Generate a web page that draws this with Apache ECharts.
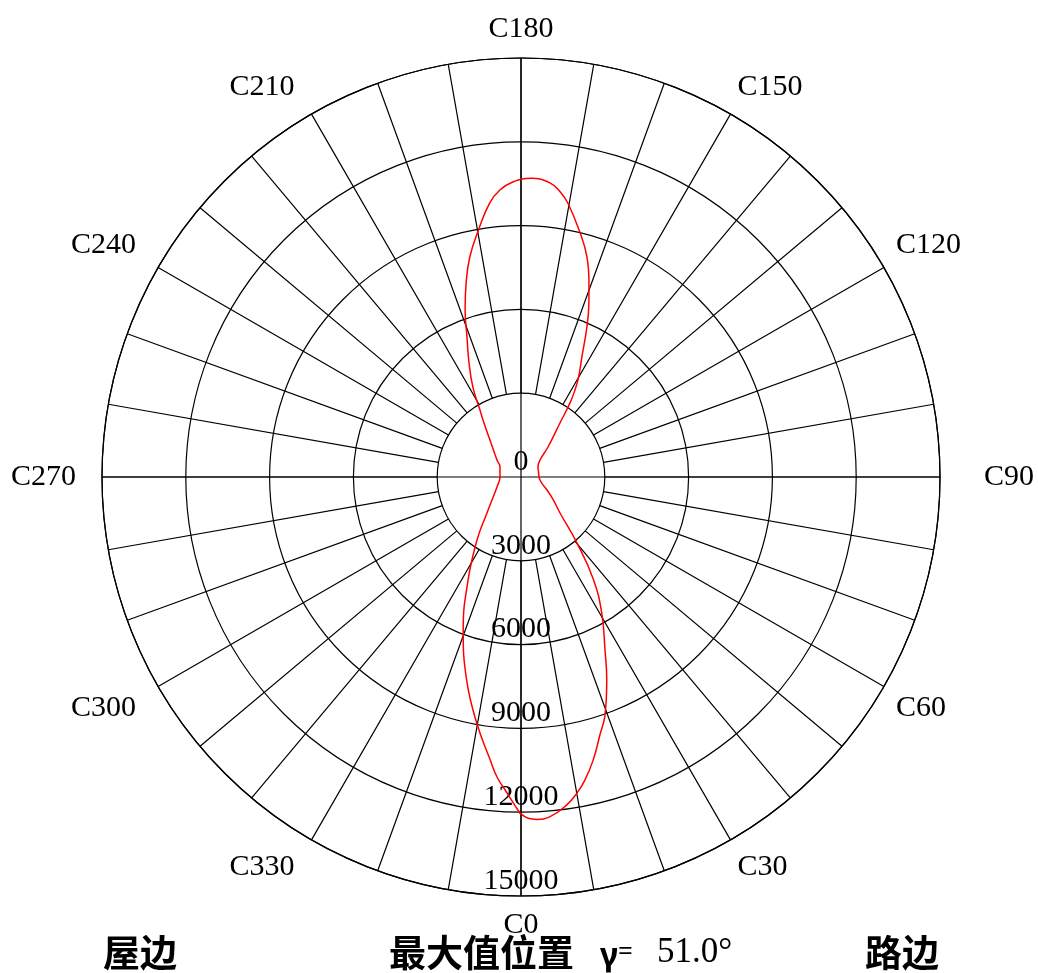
<!DOCTYPE html>
<html>
<head>
<meta charset="utf-8">
<script src="https://cdn.jsdelivr.net/npm/echarts@6/dist/echarts.min.js"></script>
<style>html,body{margin:0;padding:0;background:#fff}#c{width:1038px;height:973px}</style>
</head>
<body>
<div id="c"></div>
<script>
// ---- data ----
const radiusTicks = [0, 3000, 6000, 9000, 12000, 15000];
const angleLabelStep = 30;
const angleLabelPrefix = 'C';
const curveAngles = [0, 1.2, 2.6, 4.9, 7.9, 10.0, 11.9, 14.3, 17.0, 19.4, 22.9, 25.9, 30.7, 35.3, 40.3, 47.3, 55, 63.4, 72, 81, 90, 105, 120.5, 131.8, 138, 144.2, 146.5, 148.2, 149.9, 153.1, 156.3, 158.7, 160.7, 163.3, 166.5, 170.3, 172.2, 174.4, 178.0, 181.6, 184.2, 186.5, 189.7, 193.1, 195.8, 198.5, 201.1, 204.5, 208.2, 211.5, 213.7, 220, 234.7, 244.5, 270, 292.6, 316.6, 325.1, 332.8, 339.3, 345, 349.8, 353.8, 355.4, 357.1, 359.8, 360];
const curveValues = [12060, 12220, 12270, 12205, 11860, 11500, 11090, 10460, 9660, 9050, 7890, 6885, 5660, 4480, 3100, 1900, 1400, 1040, 800, 690, 645, 650, 706, 913, 1445, 2385, 3180, 3666, 4100, 4820, 5870, 6690, 7360, 8220, 9020, 9950, 10310, 10580, 10700, 10565, 10300, 9880, 8990, 8085, 7218, 6305, 5372, 4486, 3640, 2810, 2452, 1728, 1053, 833, 752, 931, 1773, 2751, 4147, 5854, 7523, 8950, 10193, 10766, 11220, 12030, 12060];
const footLeft = '屋边';
const footMid = '最大值位置';
const footGamma = 'γ';
const footEq = '=';
const footValue = '51.0°';
const footRight = '路边';

// ---- chart ----
const rMin = radiusTicks[0], rMax = radiusTicks[radiusTicks.length - 1];
const rStep = radiusTicks[1] - radiusTicks[0];
const R = 419, CX = 521, CY = 477;
const serif = '"Liberation Serif", "Times New Roman", serif';
const cjk = '"Noto Sans CJK SC", sans-serif';
const black = { color: '#000', width: 1.2 };

const chart = echarts.init(document.getElementById('c'), null, { renderer: 'canvas' });
chart.setOption({
  backgroundColor: '#fff',
  animation: false,
  polar: [
    { center: [CX, CY], radius: [0, R] },
    { center: [CX, CY], radius: [R * radiusTicks[1] / rMax, R] }
  ],
  angleAxis: [
    {
      polarIndex: 0, type: 'value', min: 0, max: 360, interval: 90,
      startAngle: 270, clockwise: false,
      axisLine: { show: true, lineStyle: black },
      axisTick: { show: false },
      axisLabel: { show: false },
      splitLine: { show: true, lineStyle: black }
    },
    {
      polarIndex: 1, type: 'value', min: 0, max: 360, interval: 10,
      startAngle: 270, clockwise: false,
      axisLine: { show: false },
      axisTick: { show: false },
      splitLine: { show: true, lineStyle: black },
      axisLabel: {
        show: true, margin: 14, color: '#000', fontFamily: serif, fontSize: 30,
        formatter: function (v) {
          if (v % angleLabelStep !== 0 || v >= 360) return '';
          const t = angleLabelPrefix + v;
          if (v === 90) return '{r|' + t + '}';
          if (v === 270) return '{w|' + t + '}';
          if (v > 180) return '{l|' + t + '}';
          return t;
        },
        rich: {
          r: { fontFamily: serif, fontSize: 30, color: '#000', padding: [0, 0, 0, 30] },
          w: { fontFamily: serif, fontSize: 30, color: '#000', padding: [0, 12, 0, 0] },
          l: { fontFamily: serif, fontSize: 30, color: '#000', padding: [0, 10, 0, 0] }
        }
      }
    }
  ],
  radiusAxis: [
    {
      polarIndex: 0, type: 'value', min: rMin, max: rMax, interval: rStep,
      axisLine: { show: false },
      axisTick: { show: false },
      splitLine: { show: true, lineStyle: black },
      axisLabel: {
        show: true, margin: 0, align: 'center', verticalAlign: 'bottom',
        color: '#000', fontFamily: serif, fontSize: 30,
        formatter: function (v) { return String(v); }
      }
    },
    {
      polarIndex: 1, type: 'value', min: radiusTicks[1], max: rMax,
      axisLine: { show: false }, axisTick: { show: false },
      axisLabel: { show: false }, splitLine: { show: false }
    }
  ],
  series: [{
    type: 'line', coordinateSystem: 'polar', polarIndex: 0,
    data: curveAngles.map((a, i) => [curveValues[i], a]),
    smooth: 0.45, showSymbol: false, symbol: 'none',
    lineStyle: { color: '#ff0000', width: 1.5 },
    z: 10
  }],
  graphic: [
    { type: 'text', x: 103, y: 953, style: { text: footLeft, font: 'bold 37px ' + cjk, fill: '#000', verticalAlign: 'middle' } },
    { type: 'text', x: 389, y: 953, style: { text: footMid, font: 'bold 37px ' + cjk, fill: '#000', verticalAlign: 'middle' } },
    { type: 'text', x: 600, y: 957, style: {
        text: '{g|' + footGamma + '}{e|' + footEq + '}', verticalAlign: 'middle',
        rich: {
          g: { font: 'bold 32px "Noto Sans", sans-serif', fill: '#000' },
          e: { font: '26px "Noto Sans", sans-serif', fill: '#000', padding: [0, 0, 8, 0] }
        }
      } },
    { type: 'text', x: 657, y: 953, style: { text: footValue, font: '35px ' + serif, fill: '#000', verticalAlign: 'middle' } },
    { type: 'text', x: 865, y: 953, style: { text: footRight, font: 'bold 37px ' + cjk, fill: '#000', verticalAlign: 'middle' } }
  ]
});
</script>
</body>
</html>
